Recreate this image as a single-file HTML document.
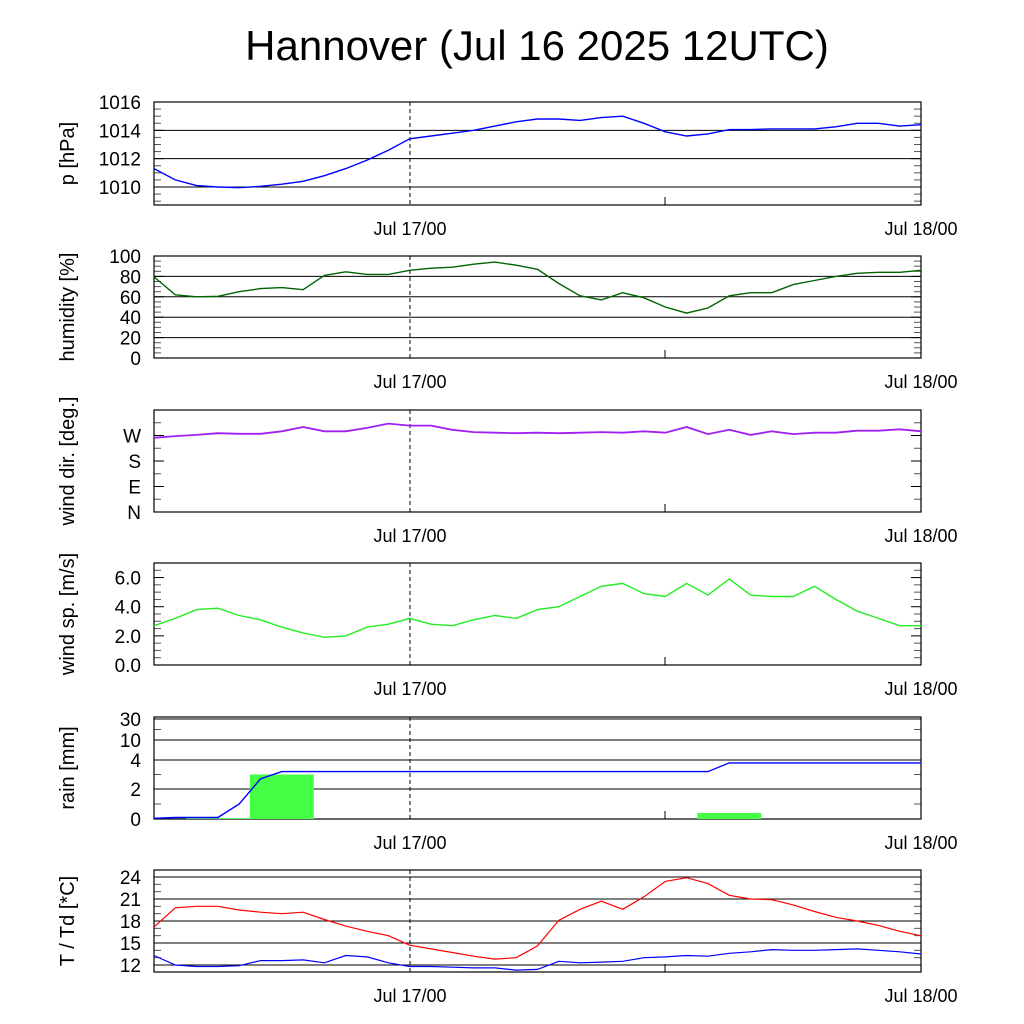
<!DOCTYPE html>
<html><head><meta charset="utf-8"><style>
body{margin:0;background:#fff}
svg{display:block;font-family:"Liberation Sans",sans-serif}
</style></head><body>
<svg id="c" width="1024" height="1024" viewBox="0 0 1024 1024">
<text x="537" y="60" font-size="42" text-anchor="middle">Hannover (Jul 16 2025 12UTC)</text>
</svg>
<script>
const hours = [0,1,2,3,4,5,6,7,8,9,10,11,12,13,14,15,16,17,18,19,20,21,22,23,24,25,26,27,28,29,30,31,32,33,34,35,36];
const pressure = [1011.3,1010.5,1010.1,1010.0,1009.95,1010.05,1010.2,1010.4,1010.8,1011.3,1011.9,1012.6,1013.4,1013.6,1013.8,1014.0,1014.3,1014.6,1014.8,1014.8,1014.7,1014.9,1015.0,1014.5,1013.9,1013.6,1013.75,1014.05,1014.05,1014.1,1014.1,1014.1,1014.25,1014.5,1014.5,1014.3,1014.4];
const humidity = [79.5,62,60,60.5,65,68,69,67,81,84.5,82,82,86,88,89,92,94,91,87,73,61,57,64,59,50,44,49,61,64,64,72,76,80,83,84,84,86];
const windDir = [262,268,272,278,276,276,285,300,285,285,297,312,305,305,290,282,280,278,280,278,280,282,280,285,280,300,275,290,272,285,275,280,280,287,287,292,285];
const windSpeed = [2.7,3.2,3.8,3.9,3.4,3.1,2.6,2.2,1.9,2.0,2.6,2.8,3.2,2.8,2.7,3.1,3.4,3.2,3.8,4.0,4.7,5.4,5.6,4.9,4.7,5.6,4.8,5.9,4.8,4.7,4.7,5.4,4.5,3.7,3.2,2.7,2.7];
const rainCum = [0.05,0.1,0.1,0.1,1.0,2.7,3.2,3.2,3.2,3.2,3.2,3.2,3.2,3.2,3.2,3.2,3.2,3.2,3.2,3.2,3.2,3.2,3.2,3.2,3.2,3.2,3.2,3.8,3.8,3.8,3.8,3.8,3.8,3.8,3.8,3.8,3.8];
const rainBarStart = [1.5,4.5,25.5];
const rainBarValue = [0.05,3.0,0.4];
const temp = [17.2,19.8,20.0,20.0,19.5,19.2,19.0,19.2,18.2,17.3,16.6,16.0,14.7,14.2,13.7,13.2,12.8,13.0,14.6,18.1,19.6,20.7,19.6,21.3,23.4,23.9,23.1,21.5,21.0,20.9,20.2,19.3,18.5,18.0,17.4,16.6,16.0];
const dew = [13.3,12.0,11.8,11.8,11.9,12.6,12.6,12.7,12.3,13.3,13.1,12.3,11.8,11.8,11.7,11.6,11.6,11.3,11.4,12.5,12.3,12.4,12.5,13.0,13.1,13.3,13.2,13.6,13.8,14.1,14.0,14.0,14.1,14.2,14.0,13.8,13.5];

const svg=document.getElementById('c');
const NS='http://www.w3.org/2000/svg';
const X0=154,X1=921;
const xs=h=>X0+(X1-X0)*h/36;
function mk(tag,attrs,parent){const e=document.createElementNS(NS,tag);for(const k in attrs)e.setAttribute(k,attrs[k]);(parent||svg).appendChild(e);return e;}

function panel(name,top,bottom,ymap,ticks,labels,minor,grid,title){
  const g=mk('g',{});
  
  
  if(grid) ticks.forEach(v=>{const y=ymap(v);const l=mk('line',{x1:X0,x2:X1,y1:y,y2:y,stroke:'#000','stroke-width':1},g);});
  minor.forEach(v=>{const y=ymap(v);mk('line',{x1:X0,x2:X0+7,y1:y,y2:y,stroke:'#555','stroke-width':1},g);mk('line',{x1:X1-7,x2:X1,y1:y,y2:y,stroke:'#555','stroke-width':1},g);});
  ticks.forEach((v,i)=>{const y=ymap(v);mk('line',{x1:X0,x2:X0+10,y1:y,y2:y,stroke:'#000'},g);mk('line',{x1:X1-10,x2:X1,y1:y,y2:y,stroke:'#000'},g);
    const t=mk('text',{x:X0-13,y:y+7,'font-size':19,'text-anchor':'end'},g);t.textContent=labels[i];});
  mk('line',{x1:410,x2:410,y1:top,y2:bottom,stroke:'#000','stroke-dasharray':'4,3'},g);
  mk('line',{x1:665,x2:665,y1:bottom-8,y2:bottom,stroke:'#000'},g);
  mk('rect',{x:X0,y:top,width:X1-X0,height:bottom-top,fill:'none',stroke:'#000','stroke-width':1.2},g);
  const tt=mk('text',{transform:`translate(${X0-80},${(top+bottom)/2}) rotate(-90)`,'font-size':20,'text-anchor':'middle'},g);tt.textContent=title;
  
  [[410,'Jul 17/00'],[921,'Jul 18/00']].forEach(([x,s])=>{const t=mk('text',{x:x,y:bottom+30,'font-size':18,'text-anchor':'middle'},g);t.textContent=s;});
  return g;
}
function line(g,vals,ymap,color,name,w){
  const d=vals.map((v,i)=>(i?'L':'M')+xs(hours[i]).toFixed(1)+','+ymap(v).toFixed(1)).join(' ');
  const p=mk('path',{d:d,fill:'none',stroke:color,'stroke-width':w||1.4},g);
  
  
}
const lin=(v0,y0,v1,y1)=>v=>y0+(v-v0)*(y1-y0)/(v1-v0);

let yp=lin(1016,102,1010,187);
let g=panel('pressure',102,205,yp,[1010,1012,1014,1016],['1010','1012','1014','1016'],[1009,1009.5,1010.5,1011,1011.5,1012.5,1013,1013.5,1014.5,1015,1015.5],true,'p [hPa]');
line(g,pressure,yp,'#0000ff','pressure-line');
let yh=lin(0,358,100,256);
g=panel('humidity',256,358,yh,[0,20,40,60,80,100],['0','20','40','60','80','100'],[5,10,15,25,30,35,45,50,55,65,70,75,85,90,95],true,'humidity [%]');
line(g,humidity,yh,'#006400','humidity-line');
let yd=lin(0,512,360,410);
g=panel('wind-dir',410,512,yd,[0,90,180,270],['N','E','S','W'],[45,135,225,315],false,'wind dir. [deg.]');
line(g,windDir,yd,'#a020f0','wind-direction-line',1.8);
let ys=lin(0,665,7,563);
g=panel('wind-speed',563,665,ys,[0,2,4,6],['0.0','2.0','4.0','6.0'],[0.5,1,1.5,2.5,3,3.5,4.5,5,5.5,6.5],false,'wind sp. [m/s]');
line(g,windSpeed,ys,'#22ee22','wind-speed-line');
const rv=[0,2,4,10,30],ry=[819,789,760,740,719];
const yr=v=>{for(let i=0;i<rv.length-1;i++){if(v<=rv[i+1])return ry[i]+(v-rv[i])*(ry[i+1]-ry[i])/(rv[i+1]-rv[i]);}return 717;};
g=panel('rain',717,819,yr,rv,['0','2','4','10','30'],[1,3,20],true,'rain [mm]');
rainBarStart.forEach((s,i)=>{const y=yr(rainBarValue[i]);const r=mk('rect',{x:xs(s),y:y,width:xs(s+3)-xs(s),height:819-y,fill:'#44ff44'},g);
  });
line(g,rainCum,yr,'#0000ff','cumulative-rain-line');
let yt=lin(12,965,24,877);
g=panel('temperature',870,972,yt,[12,15,18,21,24],['12','15','18','21','24'],[13,14,16,17,19,20,22,23],true,'T / Td [*C]');
line(g,temp,yt,'#ff0000','temperature-line',1.2);
line(g,dew,yt,'#0000ff','dewpoint-line',1.2);
</script>
</body></html>
